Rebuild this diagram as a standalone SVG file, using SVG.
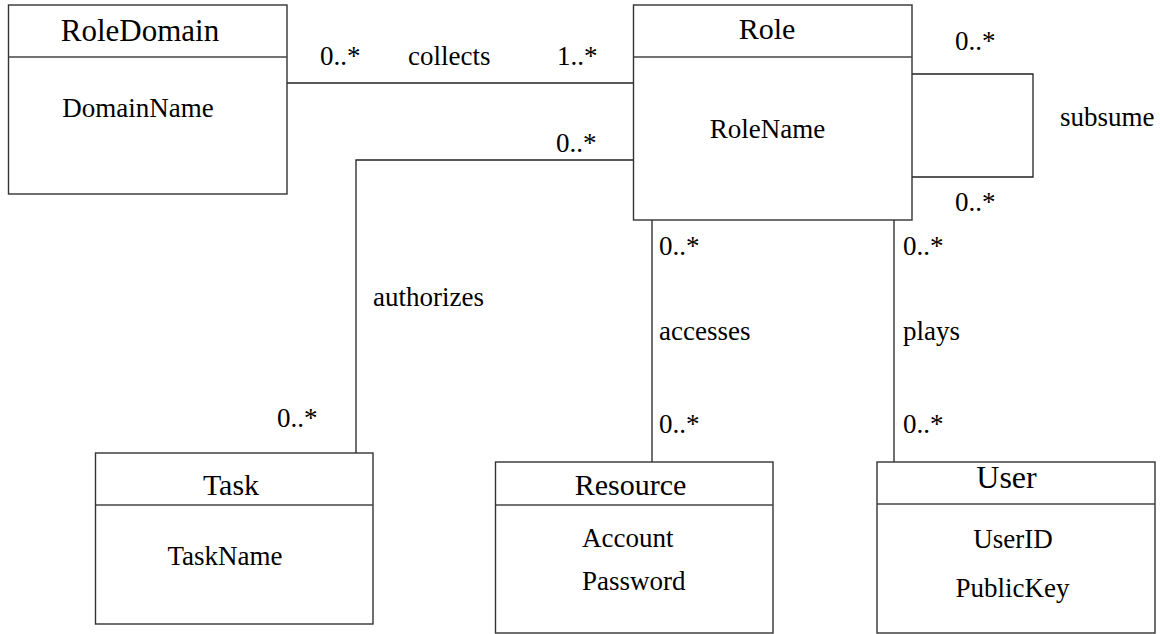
<svg xmlns="http://www.w3.org/2000/svg" width="1160" height="634" viewBox="0 0 1160 634">
<rect width="1160" height="634" fill="#fff"/>
<g id="connectors" fill="none" stroke="#222" stroke-width="1.3">
<line x1="287" y1="83" x2="633" y2="83"/>
<polyline points="633,160 356,160 356,453"/>
<line x1="652" y1="220" x2="652" y2="462"/>
<line x1="894" y1="220" x2="894" y2="462"/>
<polyline points="912,74 1033,74 1033,177 912,177"/>
</g>
<text font-family="Liberation Serif, Times New Roman, serif" font-size="27" x="320" y="65">0..*</text>
<text font-family="Liberation Serif, Times New Roman, serif" font-size="27" x="408" y="65">collects</text>
<text font-family="Liberation Serif, Times New Roman, serif" font-size="27" x="557" y="65">1..*</text>
<text font-family="Liberation Serif, Times New Roman, serif" font-size="27" x="556" y="152">0..*</text>
<text font-family="Liberation Serif, Times New Roman, serif" font-size="27" x="373" y="306">authorizes</text>
<text font-family="Liberation Serif, Times New Roman, serif" font-size="27" x="277" y="427">0..*</text>
<text font-family="Liberation Serif, Times New Roman, serif" font-size="27" x="659" y="255">0..*</text>
<text font-family="Liberation Serif, Times New Roman, serif" font-size="27" x="659" y="340">accesses</text>
<text font-family="Liberation Serif, Times New Roman, serif" font-size="27" x="659" y="433">0..*</text>
<text font-family="Liberation Serif, Times New Roman, serif" font-size="27" x="903" y="255">0..*</text>
<text font-family="Liberation Serif, Times New Roman, serif" font-size="27" x="903" y="340">plays</text>
<text font-family="Liberation Serif, Times New Roman, serif" font-size="27" x="903" y="433">0..*</text>
<text font-family="Liberation Serif, Times New Roman, serif" font-size="27" x="955" y="50">0..*</text>
<text font-family="Liberation Serif, Times New Roman, serif" font-size="27" x="955" y="211">0..*</text>
<text font-family="Liberation Serif, Times New Roman, serif" font-size="27" x="1060" y="126">subsume</text>
<g id="RoleDomain">
<rect x="8.5" y="5" width="278.5" height="189" fill="#fff" stroke="#333" stroke-width="1.4"/>
<line x1="8.5" y1="57" x2="287" y2="57" stroke="#444" stroke-width="1.4"/>
<text font-family="Liberation Serif, Times New Roman, serif" font-size="31" text-anchor="middle" x="140" y="41">RoleDomain</text>
<text font-family="Liberation Serif, Times New Roman, serif" font-size="27" text-anchor="middle" x="138" y="117">DomainName</text>
</g>
<g id="Role">
<rect x="633.5" y="5" width="278.5" height="215" fill="#fff" stroke="#333" stroke-width="1.4"/>
<line x1="633.5" y1="57" x2="912" y2="57" stroke="#444" stroke-width="1.4"/>
<text font-family="Liberation Serif, Times New Roman, serif" font-size="30" text-anchor="middle" x="767" y="39">Role</text>
<text font-family="Liberation Serif, Times New Roman, serif" font-size="27" text-anchor="middle" x="767.5" y="138">RoleName</text>
</g>
<g id="Task">
<rect x="95.5" y="453" width="277.5" height="171" fill="#fff" stroke="#333" stroke-width="1.4"/>
<line x1="95.5" y1="505" x2="373" y2="505" stroke="#444" stroke-width="1.4"/>
<text font-family="Liberation Serif, Times New Roman, serif" font-size="30" text-anchor="middle" x="231" y="495">Task</text>
<text font-family="Liberation Serif, Times New Roman, serif" font-size="27" text-anchor="middle" x="225" y="565">TaskName</text>
</g>
<g id="Resource">
<rect x="495.5" y="462" width="277.5" height="171" fill="#fff" stroke="#333" stroke-width="1.4"/>
<line x1="495.5" y1="505" x2="773" y2="505" stroke="#444" stroke-width="1.4"/>
<text font-family="Liberation Serif, Times New Roman, serif" font-size="30" text-anchor="middle" x="630.5" y="495">Resource</text>
<text font-family="Liberation Serif, Times New Roman, serif" font-size="27" x="582" y="547">Account</text>
<text font-family="Liberation Serif, Times New Roman, serif" font-size="27" x="582" y="590">Password</text>
</g>
<g id="User">
<rect x="877" y="462" width="278" height="171" fill="#fff" stroke="#333" stroke-width="1.4"/>
<line x1="877" y1="504" x2="1155" y2="504" stroke="#444" stroke-width="1.4"/>
<text font-family="Liberation Serif, Times New Roman, serif" font-size="32" text-anchor="middle" x="1006.5" y="488">User</text>
<text font-family="Liberation Serif, Times New Roman, serif" font-size="27" text-anchor="middle" x="1013" y="548">UserID</text>
<text font-family="Liberation Serif, Times New Roman, serif" font-size="27" text-anchor="middle" x="1012.5" y="597">PublicKey</text>
</g>
</svg>
